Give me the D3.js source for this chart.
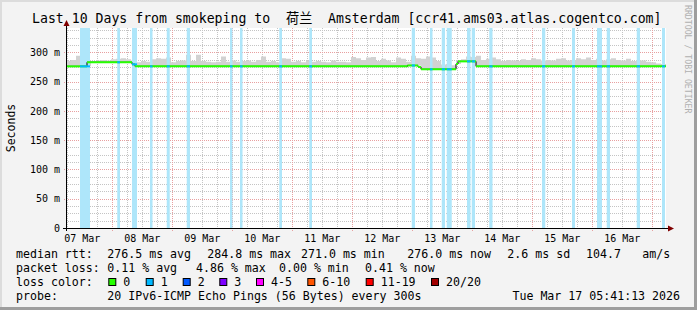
<!DOCTYPE html>
<html>
<head>
<meta charset="utf-8">
<script src="https://cdn.jsdelivr.net/npm/d3@7"></script>
<style>
  body { margin: 0; background: #f3f3f3; }
  svg { display: block; }
  text { font-family: "DejaVu Sans Mono", monospace; fill: #000; }
</style>
</head>
<body>
<svg id="chart" width="697" height="310"></svg>
<script>
// end of graph, shown in the legend
var endTime = Date.UTC(2026, 2, 17, 5, 41, 13);
var startTime = endTime - 10 * 86400e3;

// median rtt (ms) as steps: hour offset from start -> value
var medianHours  = [0,   8.4, 26.4,  27.6, 136.6, 140.8, 142, 156,  156.8, 164];
var medianValues = [276, 283, 279.5, 276,  277.5, 275,   271, 280,  284.5, 276];

// loss periods (1/20 lost), hour offsets from start
var lossStart = [5.6, 20.5, 26.4, 33.6, 40.3, 48.3, 65.6, 69.6, 85.3, 97.3, 138.3, 145.6, 150.3, 152.3, 160.4, 162.3, 169.3, 190.4, 202.4, 212.4, 216.3, 228.3, 238.4];
var lossEnd   = [9.6, 21.6, 28.4, 34.6, 41.5, 49.6, 66.6, 70.6, 86.4, 98.4, 139.6, 146.6, 151.6, 154.3, 161.8, 163.6, 170.6, 191.7, 203.6, 214.4, 217.6, 229.6, 239.6];

// smoke top (max ping, ms), one value per 2 hours
var smokeMax = [
  285, 287, 294, 286, 285, 285, 286, 287, 286, 288,
  289, 290, 288, 286, 283, 285, 284, 288, 290, 289,
  291, 283, 285, 286, 296, 285, 296, 285, 284, 283,
  284, 293, 284, 286, 284, 285, 286, 284, 287, 293,
  284, 285, 283, 290, 289, 284, 285, 283, 286, 284,
  285, 284, 283, 286, 284, 284, 283, 292, 290, 287,
  291, 292, 285, 289, 286, 283, 291, 289, 284, 294,
  290, 289, 293, 291, 285, 279, 280, 278, 286, 288,
  293, 292, 294, 287, 289, 291, 288, 285, 287, 286,
  285, 288, 287, 290, 288, 286, 287, 286, 289, 290,
  286, 287, 290, 288, 291, 287, 289, 286, 288, 290,
  287, 286, 289, 285, 287, 286, 284, 283, 281, 280
];

var yTicks = [0, 50, 100, 150, 200, 250, 300];

var lossLabels = ["0", "1", "2", "3", "4-5", "6-10", "11-19", "20/20"];
var lossColors = ["#26ff00", "#00b8ff", "#0059ff", "#7e00ff", "#ff00ff", "#ff5500", "#ff0000", "#a10000"];

var hourMs = 3600e3;
function tAt(h) { return new Date(startTime + h * hourMs); }
function medianAt(h) {
  var v = medianValues[0];
  for (var i = 0; i < medianHours.length; i++) if (medianHours[i] <= h) v = medianValues[i];
  return v;
}

var svg = d3.select('#chart');
var pLeft = 66, pRight = 666, pTop = 28, pBottom = 228;

var x = d3.scaleUtc().domain([new Date(startTime), new Date(endTime)]).range([pLeft, pRight]);
var y = d3.scaleLinear().domain([0, 341.5]).range([pBottom, pTop]);

// frame
svg.append('rect').attr('width', 697).attr('height', 310).attr('fill', '#f3f3f3');
svg.append('rect').attr('x', 0).attr('y', 0).attr('width', 697).attr('height', 2).attr('fill', '#dcdcdc');
svg.append('rect').attr('x', 0).attr('y', 0).attr('width', 2).attr('height', 310).attr('fill', '#dcdcdc');
svg.append('rect').attr('x', 0).attr('y', 307).attr('width', 697).attr('height', 3).attr('fill', '#9e9e9e');
svg.append('rect').attr('x', 694).attr('y', 0).attr('width', 3).attr('height', 310).attr('fill', '#9e9e9e');

svg.append('rect').attr('x', pLeft).attr('y', pTop).attr('width', pRight - pLeft).attr('height', pBottom - pTop).attr('fill', '#fff');

// grid
var grid = svg.append('g').attr('shape-rendering', 'crispEdges');
var minorY = d3.range(0, 341.5, 12.5).filter(function(v) { return v % 50 !== 0; });
grid.selectAll('.hy').data(minorY).enter().append('line')
  .attr('x1', pLeft).attr('x2', pRight)
  .attr('y1', function(d) { return Math.round(y(d)) + 0.5; }).attr('y2', function(d) { return Math.round(y(d)) + 0.5; })
  .attr('stroke', '#c4c4c4').attr('stroke-dasharray', '1,1');
var sixHours = d3.utcHour.every(6).range(new Date(startTime), new Date(endTime)).filter(function(d) { return d.getUTCHours() !== 0; });
grid.selectAll('.vx').data(sixHours).enter().append('line')
  .attr('x1', function(d) { return Math.round(x(d)) + 0.5; }).attr('x2', function(d) { return Math.round(x(d)) + 0.5; })
  .attr('y1', pTop).attr('y2', pBottom)
  .attr('stroke', '#c4c4c4').attr('stroke-dasharray', '1,1');
var days = d3.utcDay.range(new Date(startTime), new Date(endTime));
grid.selectAll('.mx').data(days).enter().append('line')
  .attr('x1', function(d) { return Math.round(x(d)) + 0.5; }).attr('x2', function(d) { return Math.round(x(d)) + 0.5; })
  .attr('y1', pTop).attr('y2', pBottom + 3)
  .attr('stroke', '#e8a0a0').attr('stroke-dasharray', '1,1');
grid.selectAll('.my').data(yTicks.slice(1)).enter().append('line')
  .attr('x1', pLeft - 2).attr('x2', pRight)
  .attr('y1', function(d) { return Math.round(y(d)) + 0.5; }).attr('y2', function(d) { return Math.round(y(d)) + 0.5; })
  .attr('stroke', '#e8a0a0').attr('stroke-dasharray', '1,1');

// smoke
var smokePts = smokeMax.map(function(v, i) { return { h: i * 2, v: v }; });
smokePts.push({ h: 240, v: smokeMax[smokeMax.length - 1] });
svg.append('path')
  .datum(smokePts)
  .attr('fill', '#d2d2d2')
  .attr('d', d3.area().curve(d3.curveStepAfter)
    .x(function(d) { return x(tAt(d.h)); })
    .y0(function(d) { return y(medianAt(d.h)); })
    .y1(function(d) { return y(d.v); }));

// loss bands
svg.selectAll('.loss').data(lossStart).enter().append('rect')
  .attr('x', function(d) { return x(tAt(d)); })
  .attr('width', function(d, i) { return x(tAt(lossEnd[i])) - x(tAt(d)); })
  .attr('y', pTop).attr('height', pBottom - pTop)
  .attr('fill', '#aee6fa');

// median line
var medPts = medianHours.map(function(h, i) { return { h: h, v: medianValues[i] }; });
medPts.push({ h: 240, v: medianValues[medianValues.length - 1] });
svg.append('path').datum(medPts)
  .attr('fill', 'none').attr('stroke', '#000').attr('stroke-width', 1)
  .attr('d', d3.line().curve(d3.curveStepAfter)
    .x(function(d) { return x(tAt(d.h)); })
    .y(function(d) { return y(d.v); }));
svg.selectAll('.med').data(medPts.slice(0, -1)).enter().append('line')
  .attr('x1', function(d) { return x(tAt(d.h)); })
  .attr('x2', function(d, i) { return x(tAt(medPts[i + 1].h)); })
  .attr('y1', function(d) { return y(d.v); }).attr('y2', function(d) { return y(d.v); })
  .attr('stroke', lossColors[0]).attr('stroke-width', 2);
svg.selectAll('.medloss').data(lossStart).enter().append('line')
  .attr('x1', function(d) { return x(tAt(d)); })
  .attr('x2', function(d, i) { return x(tAt(lossEnd[i])); })
  .attr('y1', function(d) { return y(medianAt(d)); }).attr('y2', function(d) { return y(medianAt(d)); })
  .attr('stroke', lossColors[1]).attr('stroke-width', 2);

// axes
var xAxis = d3.axisBottom(x)
  .tickValues(d3.utcDay.range(d3.utcDay.floor(new Date(startTime)), new Date(endTime))
    .map(function(d) { return d3.utcHour.offset(d, 12); })
    .filter(function(d) { return d >= startTime && d <= endTime; }))
  .tickFormat(d3.utcFormat('%d %b')).tickSize(0).tickPadding(7);
var gx = svg.append('g').attr('transform', 'translate(0,' + pBottom + ')').call(xAxis);
gx.select('.domain').remove();
gx.selectAll('text').style('font-family', 'DejaVu Sans Mono').style('font-size', '10px').attr('fill', '#000');

var yAxis = d3.axisLeft(y).tickValues(yTicks)
  .tickFormat(function(d) { return d === 0 ? '0' : d + ' m'; }).tickSize(0).tickPadding(6);
var gy = svg.append('g').attr('transform', 'translate(' + pLeft + ',0)').call(yAxis);
gy.select('.domain').remove();
gy.selectAll('text').style('font-family', 'DejaVu Sans Mono').style('font-size', '10px').attr('fill', '#000');

svg.append('line').attr('x1', pLeft - 3).attr('x2', 668).attr('y1', pBottom + 0.5).attr('y2', pBottom + 0.5)
  .attr('stroke', '#000').attr('shape-rendering', 'crispEdges');
svg.append('line').attr('x1', pLeft + 0.5).attr('x2', pLeft + 0.5).attr('y1', pBottom + 3).attr('y2', 24)
  .attr('stroke', '#000').attr('shape-rendering', 'crispEdges');
svg.append('path').attr('d', 'M668,225.5 L674,228.5 L668,231.5 Z').attr('fill', '#800000');
svg.append('path').attr('d', 'M63.5,26 L66.5,20 L69.5,26 Z').attr('fill', '#800000');

// title
var title = svg.append('text').attr('y', 23).style('font-size', '13.2px');
title.append('tspan').attr('x', 32).text('Last 10 Days from smokeping to');
title.append('tspan').attr('x', 286).style('font-family', '"Noto Sans CJK SC"').text('荷兰');
title.append('tspan').attr('x', 328).text('Amsterdam [ccr41.ams03.atlas.cogentco.com]');

svg.append('text').attr('transform', 'translate(15,128) rotate(-90)')
  .attr('text-anchor', 'middle').style('font-size', '11.5px').text('Seconds');

svg.append('text').attr('transform', 'translate(685,5) rotate(90)')
  .style('font-size', '8.2px').style('fill', '#b0b0b0')
  .text('RRDTOOL / TOBI OETIKER');

// legend
var legendFont = '11.6px';
function legendText(xp, yp, s) {
  svg.append('text').attr('x', xp).attr('y', yp).style('font-size', legendFont).text(s);
}
legendText(16, 258, 'median rtt:');
legendText(107.3, 258, '276.5 ms avg');
legendText(207.3, 258, '284.8 ms max');
legendText(301, 258, '271.0 ms min');
legendText(407.3, 258, '276.0 ms now');
legendText(507.3, 258, '2.6 ms sd');
legendText(586, 258, '104.7');
legendText(642.3, 258, 'am/s');

legendText(16, 272, 'packet loss:');
legendText(107.3, 272, '0.11 % avg');
legendText(196, 272, '4.86 % max');
legendText(279, 272, '0.00 % min');
legendText(365, 272, '0.41 % now');

legendText(16, 286, 'loss color:');
var boxX = [108.3, 145.7, 182.7, 219.3, 256, 307.3, 365.7, 431];
lossLabels.forEach(function(l, i) {
  svg.append('rect').attr('x', boxX[i] + 0.5).attr('y', 278.5).attr('width', 7).attr('height', 7)
    .attr('fill', lossColors[i]).attr('stroke', '#000').attr('stroke-width', 1);
  legendText(boxX[i] + 15, 286, l);
});

legendText(16, 300, 'probe:');
legendText(107.3, 300, '20 IPv6-ICMP Echo Pings (56 Bytes) every 300s');
svg.append('text').attr('x', 680).attr('y', 300).attr('text-anchor', 'end').style('font-size', legendFont)
  .text('Tue Mar 17 05:41:13 2026');
</script>
</body>
</html>
